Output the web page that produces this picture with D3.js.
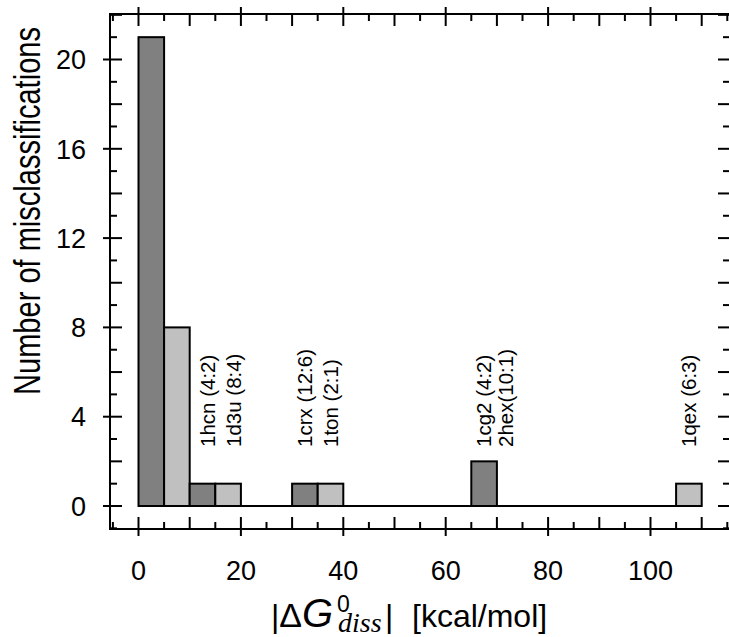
<meta charset="utf-8">
<html lang="en">
<head>
    <meta charset="utf-8">
    <style>
        body { margin: 0; background: #fff; }
        svg { display: block; }
        text { font-family: "Liberation Sans", Arial, sans-serif; fill: #000; }
    </style>
</head>
<body>
    <div id="my_dataviz"></div>
    <script src="https://d3js.org/d3.v7.min.js"></script>
    <script>
        // histogram bins (kcal/mol) and counts
        var binStart = [0, 5, 10, 15, 30, 35, 65, 105];
        var binEnd = [5, 10, 15, 20, 35, 40, 70, 110];
        var counts = [21, 8, 1, 1, 1, 1, 2, 1];
        var shade = ["dark", "light", "dark", "light", "dark", "light", "dark", "light"];

        // complex labels and where they sit along x
        var labelText = ["1hcn (4:2)", "1d3u (8:4)", "1crx (12:6)", "1ton (2:1)", "1cg2 (4:2)", "2hex(10:1)", "1qex (6:3)"];
        var labelX = [13.5, 18.6, 32.4, 37.6, 67.5, 71.8, 107.5];

        var xTicks = [0, 20, 40, 60, 80, 100];
        var yTicks = [0, 4, 8, 12, 16, 20];

        var W = 729, H = 637;
        var frame = { left: 110, top: 14, right: 730, bottom: 529 };

        var svg = d3.select("#my_dataviz")
            .append("svg")
            .attr("width", W)
            .attr("height", H);

        var x = d3.scaleLinear().domain([0, 100]).range([138.5, 650.5]);
        var y = d3.scaleLinear().domain([0, 20]).range([506, 59.5]);

        var xMin = x.invert(frame.left), xMax = x.invert(frame.right);
        var yMin = y.invert(frame.bottom), yMax = y.invert(frame.top);

        var color = { dark: "#808080", light: "#c0c0c0" };

        // baseline at zero
        svg.append("line")
            .attr("x1", x(0)).attr("x2", x(110))
            .attr("y1", y(0)).attr("y2", y(0))
            .attr("stroke", "#000").attr("stroke-width", 2);

        // bars
        svg.selectAll("rect.bar")
            .data(counts)
            .enter()
            .append("rect")
            .attr("class", "bar")
            .attr("x", function (d, i) { return x(binStart[i]) })
            .attr("width", function (d, i) { return x(binEnd[i]) - x(binStart[i]) })
            .attr("y", function (d) { return y(d) })
            .attr("height", function (d) { return y(0) - y(d) })
            .attr("fill", function (d, i) { return color[shade[i]] })
            .attr("stroke", "#000")
            .attr("stroke-width", 2);

        // frame
        svg.append("rect")
            .attr("x", frame.left).attr("y", frame.top)
            .attr("width", frame.right - frame.left)
            .attr("height", frame.bottom - frame.top)
            .attr("fill", "none").attr("stroke", "#000").attr("stroke-width", 2);

        // ticks: long ones cross the frame, others sit inside
        var ticks = svg.append("g").attr("stroke", "#000").attr("stroke-width", 2);
        d3.range(Math.ceil(xMin / 5) * 5, xMax, 5).forEach(function (v) {
            var kind = v % 20 === 0 ? "long" : (v % 10 === 0 ? "mid" : "minor");
            var inner = kind === "minor" ? 7 : 12;
            var outer = kind === "long" ? 7 : 0;
            ticks.append("line").attr("x1", x(v)).attr("x2", x(v))
                .attr("y1", frame.bottom + outer).attr("y2", frame.bottom - inner);
            ticks.append("line").attr("x1", x(v)).attr("x2", x(v))
                .attr("y1", frame.top - outer).attr("y2", frame.top + inner);
        });
        d3.range(Math.ceil(yMin), yMax, 1).forEach(function (v) {
            var kind = v % 4 === 0 ? "long" : (v % 2 === 0 ? "mid" : "minor");
            var inner = kind === "minor" ? 7 : 12;
            var outer = kind === "long" ? 7 : 0;
            ticks.append("line").attr("y1", y(v)).attr("y2", y(v))
                .attr("x1", frame.left - outer).attr("x2", frame.left + inner);
            ticks.append("line").attr("y1", y(v)).attr("y2", y(v))
                .attr("x1", frame.right + outer).attr("x2", frame.right - inner);
        });

        // tick labels
        svg.selectAll("text.xt")
            .data(xTicks)
            .enter()
            .append("text")
            .attr("class", "xt")
            .attr("x", function (d) { return x(d) })
            .attr("y", 580)
            .attr("text-anchor", "middle")
            .style("font-size", "27px")
            .text(function (d) { return d });

        svg.selectAll("text.yt")
            .data(yTicks)
            .enter()
            .append("text")
            .attr("class", "yt")
            .attr("x", 86)
            .attr("y", function (d) { return y(d) })
            .attr("dy", "0.36em")
            .attr("text-anchor", "end")
            .style("font-size", "27px")
            .text(function (d) { return d });

        // rotated complex labels
        svg.selectAll("text.lab")
            .data(labelText)
            .enter()
            .append("text")
            .attr("class", "lab")
            .attr("transform", function (d, i) { return "translate(" + x(labelX[i]) + ",447) rotate(-90)" })
            .attr("dy", "0.35em")
            .style("font-size", "20.5px")
            .text(function (d) { return d });

        // y axis title (glyphs drawn narrow as in the original)
        svg.append("text")
            .attr("transform", "translate(40,211) rotate(-90) scale(0.785,1)")
            .attr("text-anchor", "middle")
            .style("font-size", "37px")
            .text("Number of misclassifications");

        // x axis title, split so the super/subscripts stack over each other
        var ty = 627;
        var xt = svg.append("text")
            .attr("x", 271)
            .attr("y", ty)
            .style("font-size", "32px");
        xt.append("tspan").text("|");
        xt.append("tspan").style("font-size", "34px").text("\u0394");
        xt.append("tspan").style("font-size", "40px").style("font-style", "italic").text("G");
        svg.append("text")
            .attr("x", 337).attr("y", 612)
            .style("font-size", "23px").text("0");
        svg.append("text")
            .attr("x", 338).attr("y", 632)
            .style("font-family", "'Liberation Serif', 'Times New Roman', serif")
            .style("font-style", "italic").style("font-size", "28px").text("diss");
        svg.append("text")
            .attr("x", 385).attr("y", ty)
            .style("font-size", "32px")
            .text("|");
        svg.append("text")
            .attr("x", 412).attr("y", ty)
            .style("font-size", "32px")
            .text("[kcal/mol]");
    </script>
</body>
</html>
